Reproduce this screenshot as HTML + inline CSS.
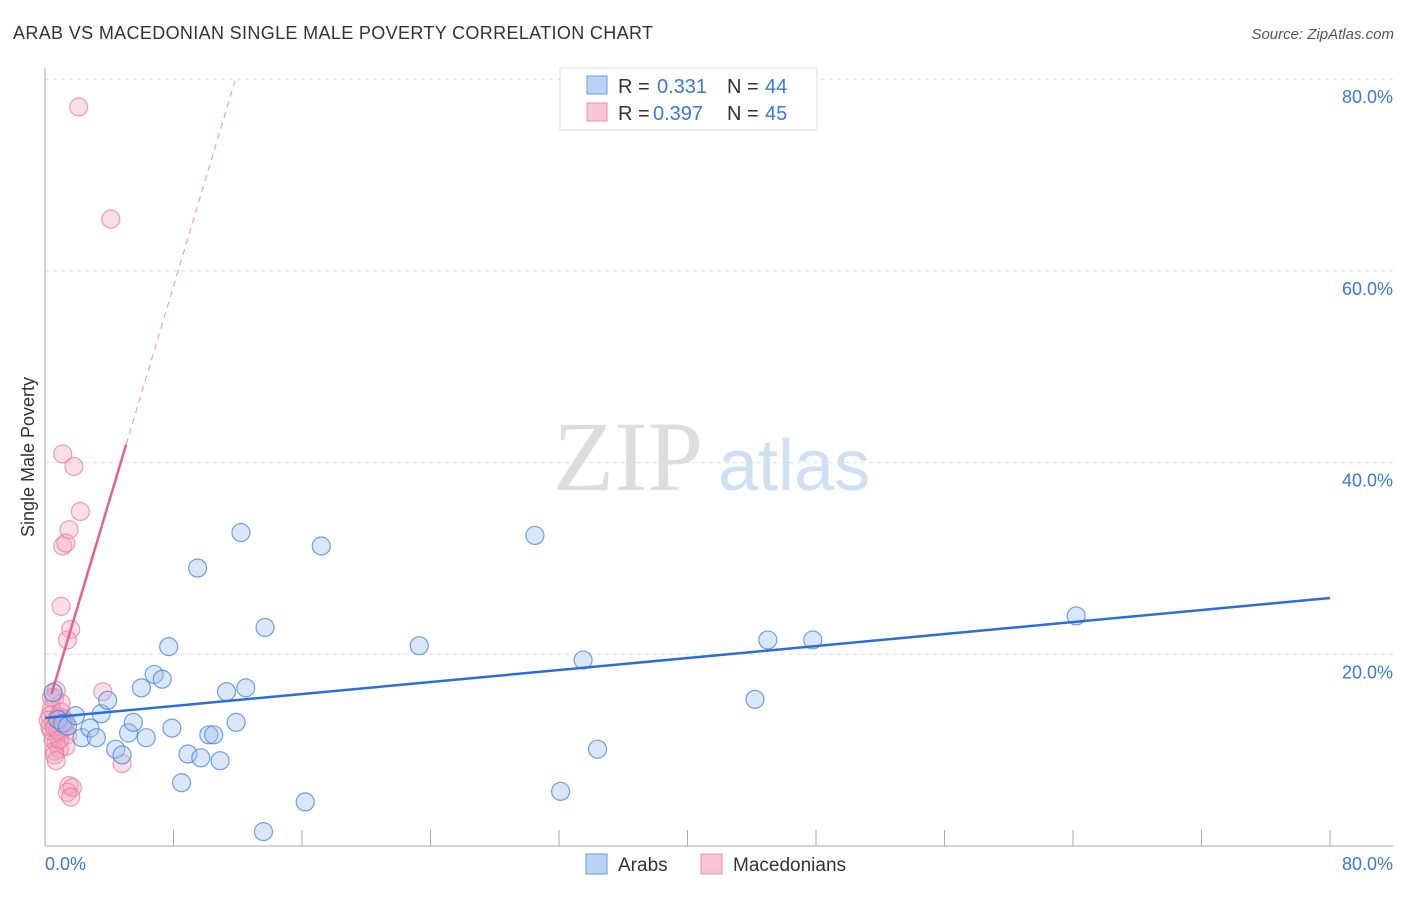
<!DOCTYPE html>
<html><head><meta charset="utf-8"><style>
body{margin:0;background:#fff;font-family:"Liberation Sans",sans-serif}
</style></head><body>
<svg width="1406" height="892" viewBox="0 0 1406 892" font-family="Liberation Sans, sans-serif">
<text x="13" y="39" font-size="18" fill="#333" textLength="640">ARAB VS MACEDONIAN SINGLE MALE POVERTY CORRELATION CHART</text>
<text x="1394" y="39" font-size="15" fill="#555" font-style="italic" text-anchor="end">Source: ZipAtlas.com</text>
<g id="grid"></g>
<g id="axes"></g>
<text x="553" y="490" font-size="100" fill="#ddd" style="font-family:'Liberation Serif',serif">ZIP</text>
<text x="718" y="490" font-size="72" fill="#cfe0f3">atlas</text>
<g id="pts"></g>
<g id="lines"></g>
<text transform="translate(34,457) rotate(-90)" font-size="18" fill="#333" text-anchor="middle">Single Male Poverty</text>
<text x="45" y="870" font-size="18" fill="#3a78d8">0.0%</text>
<text x="1393" y="870" font-size="18" fill="#3a78d8" text-anchor="end">80.0%</text>
<g>
<rect x="560" y="68" width="257" height="62" fill="#fff" stroke="#ddd"/>
<rect x="587" y="76" width="20" height="18" fill="#b9d3f5" stroke="#6a9be0"/>
<rect x="587" y="103" width="20" height="18" fill="#f9c6d5" stroke="#e98fab"/>
<text x="618" y="93" font-size="20" fill="#333">R =</text>
<text x="657" y="93" font-size="20" fill="#3a78d8">0.331</text>
<text x="727" y="93" font-size="20" fill="#333">N =</text>
<text x="765" y="93" font-size="20" fill="#3a78d8">44</text>
<text x="618" y="120" font-size="20" fill="#333">R =</text>
<text x="653" y="120" font-size="20" fill="#3a78d8">0.397</text>
<text x="727" y="120" font-size="20" fill="#333">N =</text>
<text x="765" y="120" font-size="20" fill="#3a78d8">45</text>
</g>
<g>
<rect x="586" y="854" width="21" height="20" fill="#b9d3f5" stroke="#6a9be0"/>
<text x="618" y="871" font-size="19" fill="#333">Arabs</text>
<rect x="701" y="854" width="21" height="20" fill="#f9c6d5" stroke="#e98fab"/>
<text x="733" y="871" font-size="19" fill="#333">Macedonians</text>
</g>
</svg>
<script>
const yTicks=[20,40,60,80];
const xTicks=[0,8,16,24,32,40,48,56,64,72,80];
const arabX=[0.5,0.8,1.1,1.4,1.9,2.3,2.8,3.2,3.5,3.9,4.4,4.8,5.2,5.5,6.0,6.3,6.8,7.3,7.7,7.9,8.5,8.9,9.5,9.7,10.2,10.5,10.9,11.3,11.9,12.2,12.5,13.6,13.7,16.2,17.2,23.3,30.5,32.1,33.5,34.4,44.2,45.0,47.8,64.2];
const arabY=[16.0,13.2,12.8,12.5,13.6,11.3,12.3,11.3,13.8,15.2,10.1,9.5,11.8,12.9,16.5,11.3,17.9,17.4,20.8,12.3,6.6,9.6,29.0,9.2,11.6,11.6,8.9,16.1,12.9,32.7,16.5,1.5,22.8,4.6,31.3,20.9,32.4,5.7,19.4,10.1,15.3,21.5,21.5,24.0];
const macX=[2.1,4.1,1.1,1.8,2.2,1.5,1.1,1.3,1.0,1.6,1.4,3.6,0.7,0.6,1.0,0.4,0.3,0.8,1.2,0.7,1.2,0.4,0.9,1.4,0.5,0.7,1.3,0.6,0.9,0.6,0.7,4.8,1.5,1.7,1.4,1.6,1.0,0.2,0.3,0.8,1.0,1.3,0.6,0.9,0.4];
const macY=[77.1,65.4,40.9,39.6,34.9,33.0,31.3,31.6,25.0,22.6,21.5,16.1,16.2,15.5,14.9,14.3,13.6,13.5,13.2,12.7,12.4,12.0,11.8,11.6,11.1,10.8,10.4,9.9,10.1,9.5,8.9,8.6,6.3,6.1,5.6,5.1,13.4,13.1,12.4,12.1,14.0,12.9,12.4,11.1,15.5];
const arabTrend=[13.35,25.87];
const macTrend=[13.6,5.6];
const NS="http://www.w3.org/2000/svg";
const X=v=>45+v/80*1285, Y=v=>846-v/20*191.7;
function mk(t,a,p){const e=document.createElementNS(NS,t);for(const k in a)e.setAttribute(k,a[k]);document.getElementById(p).appendChild(e);return e;}
yTicks.forEach(t=>{
 const l=mk('line',{x1:45,x2:1393,y1:Y(t),y2:Y(t),stroke:'#ddd','stroke-dasharray':'4,4'},'grid');
 
 
 const tx=mk('text',{x:1393,y:Y(t)+24,'font-size':18,fill:'#3a78d8','text-anchor':'end'},'grid');
 tx.textContent=t.toFixed(1)+'%';
 
 
});
let a=mk('line',{x1:45,x2:45,y1:68,y2:846,stroke:'#aaa'},'axes');


a=mk('line',{x1:45,x2:1393,y1:846,y2:846,stroke:'#aaa'},'axes');


xTicks.forEach(t=>{
 const l=mk('line',{x1:X(t),x2:X(t),y1:830,y2:846,stroke:'#aaa'},'axes');
 
 
});
macX.forEach((v,i)=>{
 const c=mk('circle',{cx:X(v),cy:Y(macY[i]),r:9,fill:'rgba(244,160,188,0.35)',stroke:'rgba(232,120,155,0.7)','stroke-width':1.2},'pts');
 
 
});
arabX.forEach((v,i)=>{
 const c=mk('circle',{cx:X(v),cy:Y(arabY[i]),r:9,fill:'rgba(160,195,240,0.4)',stroke:'rgba(70,130,215,0.75)','stroke-width':1.2},'pts');
 
 
});
let t=mk('line',{x1:X(0),y1:Y(arabTrend[0]),x2:X(80),y2:Y(arabTrend[1]),stroke:'#2a6fd6','stroke-width':2.5},'lines');


const mx1=0.4,mx2=5.05,mx3=(80-macTrend[0])/macTrend[1];
t=mk('line',{x1:X(mx1),y1:Y(macTrend[0]+macTrend[1]*mx1),x2:X(mx2),y2:Y(macTrend[0]+macTrend[1]*mx2),stroke:'#e8608f','stroke-width':2.5},'lines');


t=mk('line',{x1:X(mx2),y1:Y(macTrend[0]+macTrend[1]*mx2),x2:X(mx3),y2:Y(80),stroke:'#eba0b8','stroke-width':1.2,'stroke-dasharray':'6,5'},'lines');


</script>
</body></html>
